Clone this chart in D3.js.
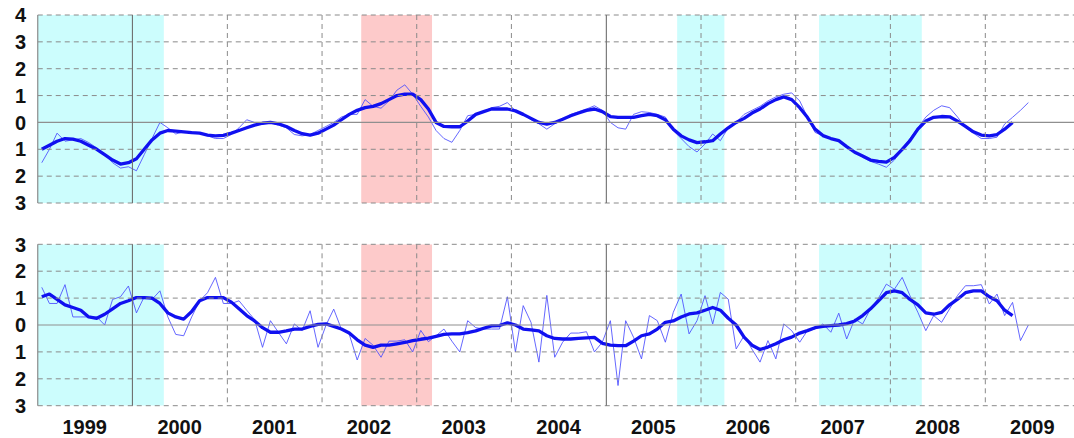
<!DOCTYPE html>
<html><head><meta charset="utf-8">
<script src="https://cdn.jsdelivr.net/npm/d3@7"></script>
<style>html,body{margin:0;padding:0;background:#fff;overflow:hidden}</style>
</head><body><svg id="chart" width="1074" height="438"></svg>
<script>
// ---- data (monthly, starting January 1999) ----
const startMonth = "1999-01";
const yearLabels = ["1999","2000","2001","2002","2003","2004","2005","2006","2007","2008","2009"];
const topTicks = [-3,-2,-1,0,1,2,3,4];
const topTickLabels = ["3","2","1","0","1","2","3","4"];
const bottomTicks = [-3,-2,-1,0,1,2,3];
const bottomTickLabels = ["3","2","1","0","1","2","3"];

const topMonthly = [-1.5,-1.0,-0.4,-0.7,-0.65,-0.6,-0.75,-0.95,-1.2,-1.5,-1.7,-1.65,
 -1.8,-1.2,-0.6,0.0,-0.2,-0.43,-0.35,-0.35,-0.4,-0.5,-0.6,-0.6,
 -0.45,-0.2,0.1,0.0,0.0,0.0,-0.1,-0.2,-0.45,-0.5,-0.45,-0.3,
 -0.15,0.0,0.2,0.3,0.3,0.85,0.6,0.53,0.8,1.2,1.4,1.05,
 0.6,0.2,-0.3,-0.6,-0.74,-0.3,0.25,0.3,0.4,0.55,0.6,0.74,
 0.43,0.3,0.1,-0.05,-0.25,-0.05,0.1,0.3,0.4,0.5,0.62,0.45,
 0.0,-0.2,-0.25,0.3,0.4,0.37,0.3,0.2,-0.3,-0.6,-0.9,-1.1,
 -0.8,-0.43,-0.68,-0.2,0.0,0.3,0.45,0.6,0.8,0.95,1.05,1.1,
 0.8,0.2,-0.37,-0.5,-0.6,-0.7,-0.9,-1.1,-1.3,-1.45,-1.55,-1.67,
 -1.4,-1.0,-0.6,-0.2,0.2,0.45,0.62,0.55,0.2,-0.19,-0.4,-0.6,
 -0.6,-0.55,-0.06,0.19,0.45,0.74];
const topRunning = [-1.0,-0.85,-0.7,-0.6,-0.62,-0.7,-0.85,-1.0,-1.2,-1.4,-1.55,-1.5,
 -1.35,-1.0,-0.65,-0.4,-0.3,-0.32,-0.35,-0.38,-0.4,-0.47,-0.5,-0.48,
 -0.4,-0.3,-0.2,-0.1,-0.03,0.0,-0.05,-0.15,-0.3,-0.42,-0.47,-0.4,
 -0.25,-0.1,0.1,0.3,0.45,0.55,0.6,0.7,0.85,1.0,1.05,1.05,
 0.85,0.5,0.0,-0.15,-0.16,-0.16,0.05,0.3,0.4,0.5,0.5,0.5,
 0.43,0.3,0.15,0.0,-0.06,0.0,0.12,0.25,0.35,0.45,0.5,0.4,
 0.22,0.19,0.19,0.19,0.25,0.3,0.25,0.1,-0.25,-0.5,-0.65,-0.75,
 -0.72,-0.68,-0.43,-0.2,0.0,0.15,0.35,0.5,0.7,0.85,0.95,0.85,
 0.55,0.19,-0.25,-0.49,-0.6,-0.68,-0.9,-1.11,-1.25,-1.4,-1.45,-1.48,
 -1.3,-1.0,-0.68,-0.25,0.05,0.19,0.22,0.21,0.05,-0.15,-0.35,-0.47,
 -0.5,-0.45,-0.25,0.0];
const bottomMonthly = [1.4,0.8,0.8,1.5,0.3,0.3,0.3,0.3,0.0,0.95,1.05,1.45,
 0.45,1.05,0.95,1.27,0.3,-0.35,-0.4,0.3,0.9,1.2,1.77,0.8,
 0.8,0.9,0.55,0.2,-0.83,0.16,-0.27,-0.7,0.04,-0.2,0.53,-0.83,
 0.0,0.59,-0.15,-0.35,-1.3,-0.5,-0.75,-1.2,-0.6,-0.6,-0.55,-1.0,
 -0.2,-0.62,-0.4,-0.15,-0.6,-1.0,0.16,-0.1,-0.15,-0.15,-0.15,1.05,
 -1.0,0.72,0.1,-1.38,1.1,-1.2,-0.64,-0.3,-0.3,-0.25,-1.0,-0.64,
 0.16,-2.25,0.16,-0.46,-1.26,0.35,0.16,-0.64,0.47,1.15,-0.33,0.16,
 1.09,0.04,1.21,0.96,-0.89,-0.4,-0.9,-1.38,-0.58,-1.26,0.04,-0.21,
 -0.64,-0.21,-0.15,0.04,-0.27,0.44,-0.52,0.22,0.04,0.6,1.0,1.52,
 1.33,1.77,1.09,0.47,-0.21,0.35,0.1,0.6,1.1,1.46,1.46,1.5,
 0.78,1.15,0.35,0.84,-0.58,0.0];
const bottomRunning = [1.05,1.15,0.95,0.75,0.65,0.55,0.3,0.25,0.4,0.6,0.8,0.9,
 1.02,1.02,1.0,0.8,0.45,0.3,0.22,0.5,0.9,1.02,1.02,1.02,
 0.85,0.6,0.35,0.15,-0.1,-0.27,-0.27,-0.22,-0.15,-0.15,-0.05,0.02,
 0.04,-0.05,-0.15,-0.3,-0.55,-0.75,-0.83,-0.75,-0.75,-0.7,-0.65,-0.58,
 -0.53,-0.49,-0.42,-0.35,-0.33,-0.33,-0.28,-0.22,-0.12,-0.03,-0.02,0.08,
 0.0,-0.15,-0.18,-0.22,-0.4,-0.5,-0.52,-0.52,-0.5,-0.48,-0.46,-0.68,
 -0.75,-0.77,-0.77,-0.6,-0.4,-0.33,-0.15,0.1,0.15,0.3,0.41,0.45,
 0.55,0.65,0.55,0.25,0.0,-0.45,-0.75,-0.91,-0.82,-0.7,-0.55,-0.45,
 -0.3,-0.21,-0.1,-0.05,-0.02,0.0,0.05,0.15,0.35,0.6,0.9,1.2,
 1.27,1.2,0.95,0.75,0.45,0.4,0.47,0.75,0.96,1.2,1.27,1.27,
 1.05,0.9,0.55,0.35];

// event periods: [first month, month after last]
const eventStart = ["1998-07","2002-06","2005-10","2007-04"];
const eventEnd   = ["2000-05","2003-03","2006-04","2008-05"];
const eventType  = ["lanina","elnino","lanina","lanina"];

// ---- drawing ----
const svg = d3.select("#chart");
const parseM = d3.timeParse("%Y-%m");
const t0 = parseM(startMonth);
const x = d3.scaleTime().domain([new Date(1999,0,1), new Date(2010,0,1)]).range([37.75, 1080]);
const monthDate = i => { const a = d3.timeMonth.offset(t0, i), b = d3.timeMonth.offset(t0, i+1); return new Date((+a + +b)/2); };
const colors = {lanina:"#ccfdfd", elnino:"#fdcaca"};
const plotL = 37.75, plotR = 1080;
const FONT = "Liberation Sans, Arial, Helvetica, sans-serif";

function panel(top, bottom, domain, ticks, tickLabels, monthly, running, id){
  const y = d3.scaleLinear().domain(domain).range([bottom, top]);
  const g = svg.append("g");
  g.append("clipPath").attr("id", id).append("rect")
    .attr("x", plotL).attr("y", top).attr("width", plotR-plotL).attr("height", bottom-top);
  const cg = g.append("g").attr("clip-path", `url(#${id})`);
  cg.selectAll("rect.ev").data(eventStart).join("rect").attr("class","ev")
    .attr("x", (d)=>x(parseM(d)))
    .attr("width", (d,i)=>x(parseM(eventEnd[i]))-x(parseM(d)))
    .attr("y", top).attr("height", bottom-top)
    .attr("fill", (d,i)=>colors[eventType[i]]);
  // horizontal grid
  g.selectAll("line.hg").data(ticks.filter(v=>v!==0)).join("line")
    .attr("x1", plotL).attr("x2", plotR).attr("y1", d=>y(d)).attr("y2", d=>y(d))
    .attr("stroke", "#8a8a8a").attr("stroke-width", 1).attr("stroke-dasharray", "5,4");
  g.append("line").attr("x1", plotL).attr("x2", plotR).attr("y1", y(0)).attr("y2", y(0))
    .attr("stroke", "#8f8f8f").attr("stroke-width", 1.2);
  // vertical grid at year boundaries
  const yrs = d3.range(2000, 2010).map(v=>new Date(v,0,1));
  g.selectAll("line.vg").data(yrs).join("line")
    .attr("x1", d=>x(d)).attr("x2", d=>x(d)).attr("y1", top).attr("y2", bottom)
    .attr("stroke", d=>d.getFullYear()%5===0 ? "#6f6f6f" : "#8a8a8a")
    .attr("stroke-width", d=>d.getFullYear()%5===0 ? 1.1 : 1)
    .attr("stroke-dasharray", d=>d.getFullYear()%5===0 ? null : "5,4");
  g.append("line").attr("x1", plotL).attr("x2", plotL).attr("y1", top).attr("y2", bottom)
    .attr("stroke", "#8a8a8a").attr("stroke-width", 1.2);
  // lines
  const line = d3.line().x((d,i)=>x(monthDate(i))).y(d=>y(d));
  cg.append("path").attr("d", line(monthly)).attr("fill","none")
    .attr("stroke", "#4a4cff").attr("stroke-width", 1).attr("stroke-opacity", 0.85);
  cg.append("path").attr("d", line(running)).attr("fill","none")
    .attr("stroke", "#1010f0").attr("stroke-width", 3.3).attr("stroke-linejoin","round");
  // y labels
  g.selectAll("text.yl").data(ticks).join("text")
    .attr("x", 26).attr("y", d=>y(d)).attr("dy", "0.36em")
    .attr("text-anchor", "end")
    .attr("font-family", FONT)
    .attr("font-weight", "bold").attr("font-size", 20).attr("fill", "#111")
    .text((d,i)=>tickLabels[i]);
}

panel(15, 203, [-3,4], topTicks, topTickLabels, topMonthly, topRunning, "c1");
panel(244.3, 405.7, [-3,3], bottomTicks, bottomTickLabels, bottomMonthly, bottomRunning, "c2");

svg.selectAll("text.year").data(yearLabels).join("text")
  .attr("x", d=>x(new Date(+d, 6, 1)))
  .attr("y", 434)
  .attr("text-anchor", "middle")
  .attr("font-family", FONT)
  .attr("font-weight", "bold").attr("font-size", 20).attr("fill", "#111")
  .text(d=>d);
</script></body></html>
